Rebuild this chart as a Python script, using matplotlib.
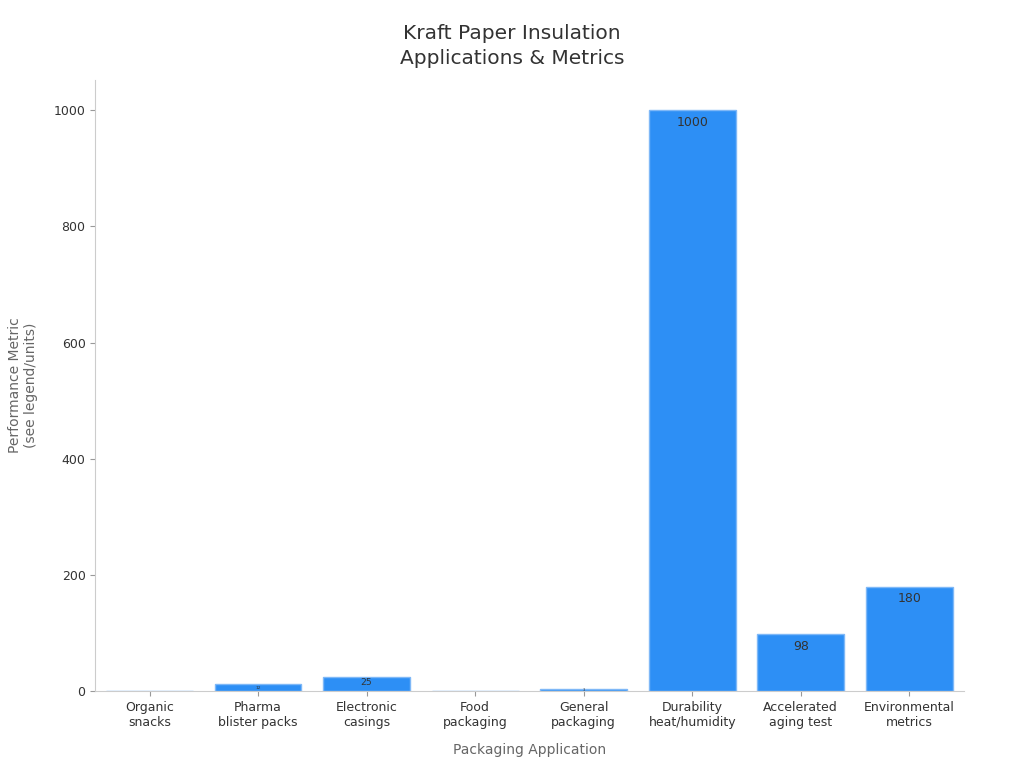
import matplotlib
matplotlib.use("Agg")
from matplotlib import pyplot as plt

plt.rcParams["font.family"] = ["DejaVu Sans"]

categories = ["Organic\nsnacks", "Pharma\nblister packs", "Electronic\ncasings", "Food\npackaging",
              "General\npackaging", "Durability\nheat/humidity", "Accelerated\naging test", "Environmental\nmetrics"]
values = [0, 12, 25, 0.5, 3, 1000, 98, 180]

bar_col = "#2d8ff5"
edge_col = "#7fb8f7"

fig = plt.figure(figsize=(10.24, 7.68), dpi=100)
ax = fig.add_axes([0.093, 0.1, 0.848, 0.796])

x = range(len(categories))
bars = ax.bar(x, values, width=0.8, color=bar_col, edgecolor=edge_col, linewidth=1)

ax.set_ylim(0, 1052)
ax.set_xlim(-0.5, len(categories) - 0.5)
ax.set_xticks(list(x))
ax.set_xticklabels(categories, fontsize=9, color="#333333")
ax.set_yticks([0, 200, 400, 600, 800, 1000])
ax.tick_params(axis="y", labelsize=9, colors="#333333")
ax.tick_params(axis="both", color="#999999")
for s in ["top", "right"]:
    ax.spines[s].set_visible(False)
for s in ["left", "bottom"]:
    ax.spines[s].set_color("#cccccc")

ax.set_xlabel("Packaging Application", fontsize=10, color="#666666", labelpad=10)
ax.set_ylabel("Performance Metric\n(see legend/units)", fontsize=10, color="#666666", labelpad=11)
fig.text(0.5, 0.940, "Kraft Paper Insulation\nApplications & Metrics", fontsize=14.5,
         color="#333333", ha="center", va="center", linespacing=1.4)

# value labels inside the top of each bar, shrunk for short bars
for b, v in zip(bars, values):
    if v < 2:
        continue
    hpx = v * 0.581
    fs = min(9, max(2.5, hpx * 0.45))
    label = str(int(v)) if float(v).is_integer() else str(v)
    ax.text(b.get_x() + b.get_width() / 2, v - min(v * 0.5, 10), label,
            ha="center", va="center" if v < 40 else "top", fontsize=fs, color="#333333")

fig.savefig("out.png", dpi=100)
